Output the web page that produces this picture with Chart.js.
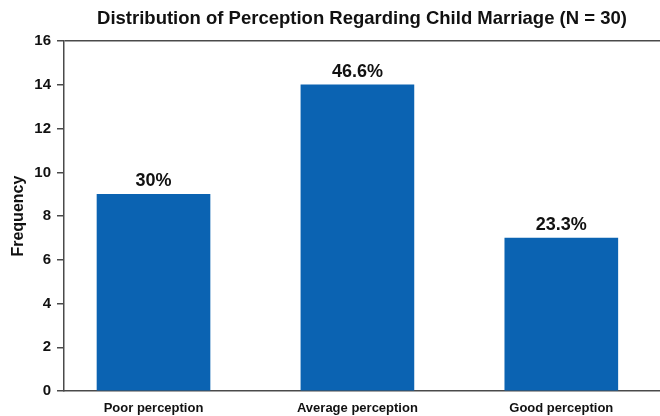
<!DOCTYPE html>
<html>
<head>
<meta charset="utf-8">
<script src="https://cdn.jsdelivr.net/npm/chart.js@4"></script>
<style>
  html, body { margin:0; padding:0; background:#fff; }
  #wrap { width:660px; height:416px; position:relative; }
</style>
</head>
<body>
<div id="wrap"><canvas id="barChart"></canvas></div>
<script>
const CATEGORIES = ['Poor perception', 'Average perception', 'Good perception'];
const FREQUENCY  = [9, 14, 7];
const PCT_LABELS = ['30%', '46.6%', '23.3%'];
const Y_TICKS    = [0, 2, 4, 6, 8, 10, 12, 14, 16];

const BAR_COLOR = '#0b63b2';
const AXIS_COLOR = '#4a4a4a';
const TEXT = '#111';
const FONT = '"Liberation Sans", Arial, sans-serif';

// ── Labels above bars ─────────────────────────────────────────────────────────
const pctLabels = {
  id:'pctLabels',
  afterDatasetsDraw(chart){
    const ctx = chart.ctx;
    const meta = chart.getDatasetMeta(0);
    ctx.save();
    ctx.font = 'bold 18px ' + FONT;
    ctx.fillStyle = TEXT;
    ctx.textAlign = 'center';
    ctx.textBaseline = 'bottom';
    meta.data.forEach((bar,i)=>{
      ctx.fillText(PCT_LABELS[i], bar.x, bar.y - 4);
    });
    ctx.restore();
  }
};

new Chart(document.getElementById('barChart').getContext('2d'), {
  type:'bar',
  data:{
    datasets:[{
      data: FREQUENCY.map((v,i)=>({ x:i, y:v })),
      backgroundColor: BAR_COLOR,
      borderWidth:0,
      barThickness:113
    }]
  },
  options:{
    responsive:true, maintainAspectRatio:false,
    animation:false,
    layout:{ padding:{ left:0, right:0, top:0, bottom:0 } },
    plugins:{
      legend:{ display:false },
      tooltip:{ enabled:false },
      title:{
        display:true, fullSize:false,
        text:'Distribution of Perception Regarding Child Marriage (N = 30)',
        color:TEXT, font:{ family:FONT, size:18.5, weight:'bold' },
        padding:{ top:8, bottom:11 }
      }
    },
    scales:{
      x:{
        type:'linear', min:-0.439, max:2.484, offset:false,
        grid:{ display:false, drawTicks:false },
        border:{ display:true, color:AXIS_COLOR, width:1.5 },
        afterBuildTicks: s => { s.ticks = CATEGORIES.map((c,i)=>({ value:i })); },
        afterFit: s => { s.height = 25; },
        ticks:{
          color:TEXT, padding:10, maxRotation:0, autoSkip:false,
          font:{ family:FONT, size:13, weight:'bold' },
          callback: v => CATEGORIES[v] ?? ''
        }
      },
      y:{
        min:0, max:16,
        afterBuildTicks: s => { s.ticks = Y_TICKS.map(v=>({ value:v })); },
        afterFit: s => { s.width = 64; },
        grid:{
          color: c => c.tick && c.tick.value === 16 ? AXIS_COLOR : 'transparent',
          tickColor:AXIS_COLOR, tickLength:7, lineWidth:1.5
        },
        border:{ display:true, color:AXIS_COLOR, width:1.5 },
        ticks:{ color:TEXT, padding:6, font:{ family:FONT, size:15, weight:'bold' } },
        title:{
          display:true, text:'Frequency', color:TEXT, padding:{ top:9, bottom:0 },
          font:{ family:FONT, size:16, weight:'bold' }
        }
      }
    }
  },
  plugins:[pctLabels]
});
</script>
</body>
</html>
